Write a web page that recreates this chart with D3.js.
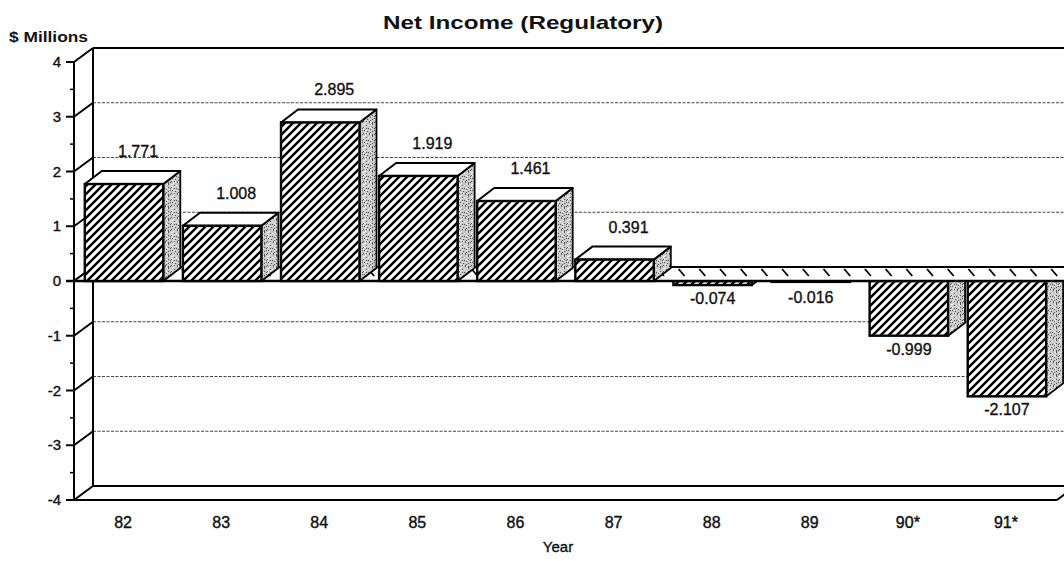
<!DOCTYPE html>
<html>
<head>
<meta charset="utf-8">
<script src="https://cdn.jsdelivr.net/npm/d3@7"></script>
<style>
  html, body { margin: 0; padding: 0; background: #fff; }
  svg { display: block; }
  text { font-family: "Liberation Sans", Arial, Helvetica, sans-serif; fill: #111; }
</style>
</head>
<body>
<svg id="chart" width="1064" height="561"></svg>
<script>
// Net income by year, $ millions
const years = ["82", "83", "84", "85", "86", "87", "88", "89", "90*", "91*"];
const netIncome = [1.771, 1.008, 2.895, 1.919, 1.461, 0.391, -0.074, -0.016, -0.999, -2.107];
const valueLabels = ["1.771", "1.008", "2.895", "1.919", "1.461", "0.391", "-0.074", "-0.016", "-0.999", "-2.107"];
const yTicks = [-4, -3, -2, -1, 0, 1, 2, 3, 4];
const yMinorTicks = [-3.5, -2.5, -1.5, -0.5, 0.5, 1.5, 2.5, 3.5];

const W = 1064, H = 561;
const svg = d3.select("#chart");

// Front plane geometry and 3-D depth offsets
const frontLeft = 74, frontRight = 1057;
const wallDX = 19, wallDY = -14;   // back wall offset
const barDX = 17, barDY = -13;     // bar depth offset

const x = d3.scaleBand().domain(years).range([frontLeft + 1, frontRight - 1])
  .paddingInner(0.2).paddingOuter(0.1);
const y = d3.scaleLinear().domain([-4, 4]).range([500, 62]);
const y0 = y(0);

const defs = svg.append("defs");

// diagonal hatch for the bar fronts
const hs = 8;
const hatch = defs.append("pattern").attr("id", "hatch")
  .attr("patternUnits", "userSpaceOnUse").attr("width", hs).attr("height", hs);
hatch.append("rect").attr("width", hs).attr("height", hs).attr("fill", "#fff");
hatch.append("path")
  .attr("d", `M-2,2 L2,-2 M0,${hs} L${hs},0 M${hs - 2},${hs + 2} L${hs + 2},${hs - 2}`)
  .attr("stroke", "#000").attr("stroke-width", 2.4);

// stippled grey for the bar sides
const stipple = defs.append("pattern").attr("id", "stipple")
  .attr("patternUnits", "userSpaceOnUse").attr("width", 12).attr("height", 12);
stipple.append("rect").attr("width", 12).attr("height", 12).attr("fill", "#c8c8c8");
let seed = 7;
const rnd = () => { seed = (seed * 16807) % 2147483647; return seed / 2147483647; };
for (let i = 0; i < 44; i++) {
  stipple.append("rect")
    .attr("x", Math.floor(rnd() * 12)).attr("y", Math.floor(rnd() * 12))
    .attr("width", 1).attr("height", 1)
    .attr("fill", rnd() < 0.6 ? "#555" : "#fff");
}

const pts = a => a.map(p => p.join(",")).join(" ");

// ---- back wall ----
const back = svg.append("g");
back.selectAll("line.grid").data(yTicks.filter(t => t !== 0 && t !== 4 && t !== -4))
  .join("line")
  .attr("x1", frontLeft + wallDX).attr("x2", W + 10)
  .attr("y1", d => y(d) + wallDY).attr("y2", d => y(d) + wallDY)
  .attr("stroke", "#444").attr("stroke-width", 1).attr("stroke-dasharray", "3,1.5");
// top edge of back wall
back.append("line")
  .attr("x1", frontLeft + wallDX).attr("x2", W + 10)
  .attr("y1", y(4) + wallDY).attr("y2", y(4) + wallDY)
  .attr("stroke", "#000").attr("stroke-width", 2);
// floor
back.append("line")
  .attr("x1", frontLeft + wallDX).attr("x2", W + 10)
  .attr("y1", y(-4) + wallDY).attr("y2", y(-4) + wallDY)
  .attr("stroke", "#000").attr("stroke-width", 2);
back.append("line")
  .attr("x1", frontLeft - 6).attr("x2", frontRight)
  .attr("y1", y(-4)).attr("y2", y(-4))
  .attr("stroke", "#000").attr("stroke-width", 2.2);
back.append("line")
  .attr("x1", frontRight).attr("x2", frontRight + wallDX)
  .attr("y1", y(-4)).attr("y2", y(-4) + wallDY)
  .attr("stroke", "#000").attr("stroke-width", 2);

// ---- left wall and axis ----
const axisG = svg.append("g");
axisG.append("line")
  .attr("x1", frontLeft + wallDX).attr("x2", frontLeft + wallDX)
  .attr("y1", y(4) + wallDY).attr("y2", y(-4) + wallDY)
  .attr("stroke", "#000").attr("stroke-width", 2);
axisG.append("line")
  .attr("x1", frontLeft).attr("x2", frontLeft)
  .attr("y1", y(4)).attr("y2", y(-4))
  .attr("stroke", "#000").attr("stroke-width", 2);
axisG.selectAll("line.diag").data(yTicks).join("line")
  .attr("x1", frontLeft).attr("x2", frontLeft + wallDX)
  .attr("y1", d => y(d)).attr("y2", d => y(d) + wallDY)
  .attr("stroke", "#000").attr("stroke-width", 2);
axisG.selectAll("line.major").data(yTicks).join("line")
  .attr("x1", frontLeft - 8).attr("x2", frontLeft)
  .attr("y1", d => y(d)).attr("y2", d => y(d))
  .attr("stroke", "#000").attr("stroke-width", 2);
axisG.selectAll("line.minor").data(yMinorTicks).join("line")
  .attr("x1", frontLeft - 4).attr("x2", frontLeft)
  .attr("y1", d => y(d)).attr("y2", d => y(d))
  .attr("stroke", "#000").attr("stroke-width", 1.5);
axisG.selectAll("text.ytick").data(yTicks).join("text")
  .attr("x", 61).attr("y", d => y(d) + 5)
  .attr("text-anchor", "end").attr("font-size", 15)
  .attr("stroke", "#111").attr("stroke-width", 0.4)
  .text(d => d);

// ---- bars ----
function drawBar(g, d, i) {
  const v = netIncome[i];
  const xl = x(d), xr = x(d) + x.bandwidth();
  const yv = y(v);
  const top = Math.min(yv, y0), bot = Math.max(yv, y0);
  // side face
  g.append("polygon")
    .attr("points", pts([[xr, top], [xr + barDX, top + barDY], [xr + barDX, bot + barDY], [xr, bot]]))
    .attr("fill", "url(#stipple)").attr("stroke", "#000").attr("stroke-width", 1.8)
    .attr("stroke-linejoin", "round");
  if (v > 0) {
    // top face
    g.append("polygon")
      .attr("points", pts([[xl, top], [xl + barDX, top + barDY], [xr + barDX, top + barDY], [xr, top]]))
      .attr("fill", "#fff").attr("stroke", "#000").attr("stroke-width", 2)
      .attr("stroke-linejoin", "round");
  }
  // front face
  g.append("rect")
    .attr("x", xl).attr("y", top).attr("width", x.bandwidth()).attr("height", Math.max(bot - top, 0.8))
    .attr("fill", "url(#hatch)").attr("stroke", "#000").attr("stroke-width", 2.4);
}

const negG = svg.append("g");
years.forEach((d, i) => { if (netIncome[i] < 0) drawBar(negG, d, i); });

// ---- zero plane ----
const zero = svg.append("g");
zero.append("polygon")
  .attr("points", pts([[frontLeft, y0], [frontLeft + wallDX, y0 + wallDY], [W + 20, y0 + wallDY], [W + 20, y0]]))
  .attr("fill", "#fff");
const tickXs = d3.range(frontLeft + wallDX + 6, W + 10, 20.7);
zero.selectAll("line.zt").data(tickXs).join("line")
  .attr("x1", d => d).attr("x2", d => d + 6)
  .attr("y1", y0 + wallDY + 2).attr("y2", y0 + wallDY + 9)
  .attr("stroke", "#000").attr("stroke-width", 1.8);
zero.append("line")
  .attr("x1", frontLeft + wallDX).attr("x2", W + 10)
  .attr("y1", y0 + wallDY).attr("y2", y0 + wallDY)
  .attr("stroke", "#000").attr("stroke-width", 2.2);
zero.append("line")
  .attr("x1", frontLeft - 8).attr("x2", W + 10)
  .attr("y1", y0).attr("y2", y0)
  .attr("stroke", "#000").attr("stroke-width", 2.6);
zero.append("line")
  .attr("x1", frontLeft).attr("x2", frontLeft + wallDX)
  .attr("y1", y0).attr("y2", y0 + wallDY)
  .attr("stroke", "#000").attr("stroke-width", 2);

const posG = svg.append("g");
years.forEach((d, i) => { if (netIncome[i] >= 0) drawBar(posG, d, i); });

// ---- value labels ----
svg.append("g").selectAll("text").data(years).join("text")
  .attr("x", (d, i) => x(d) + x.bandwidth() / 2 + (netIncome[i] >= 0 ? 14 : 0))
  .attr("y", (d, i) => netIncome[i] >= 0 ? y(netIncome[i]) + barDY - 14 : Math.max(y(netIncome[i]), y0 + 3) + 19)
  .attr("text-anchor", "middle").attr("font-size", 16)
  .attr("stroke", "#111").attr("stroke-width", 0.35)
  .text((d, i) => valueLabels[i]);

// ---- category labels ----
svg.append("g").selectAll("text").data(years).join("text")
  .attr("x", d => x(d) + x.bandwidth() / 2 - 1)
  .attr("y", 528)
  .attr("text-anchor", "middle").attr("font-size", 16)
  .attr("stroke", "#111").attr("stroke-width", 0.4)
  .text(d => d);

// ---- titles ----
svg.append("text").attr("x", 523).attr("y", 29).attr("text-anchor", "middle")
  .attr("font-size", 19).attr("font-weight", "bold")
  .attr("textLength", 280).attr("lengthAdjust", "spacingAndGlyphs")
  .text("Net Income (Regulatory)");
svg.append("text").attr("x", 9).attr("y", 42)
  .attr("font-size", 14).attr("font-weight", "bold")
  .attr("textLength", 79).attr("lengthAdjust", "spacingAndGlyphs")
  .text("$ Millions");
svg.append("text").attr("x", 558).attr("y", 552).attr("text-anchor", "middle")
  .attr("font-size", 15)
  .attr("stroke", "#111").attr("stroke-width", 0.35)
  .text("Year");
</script>
</body>
</html>
